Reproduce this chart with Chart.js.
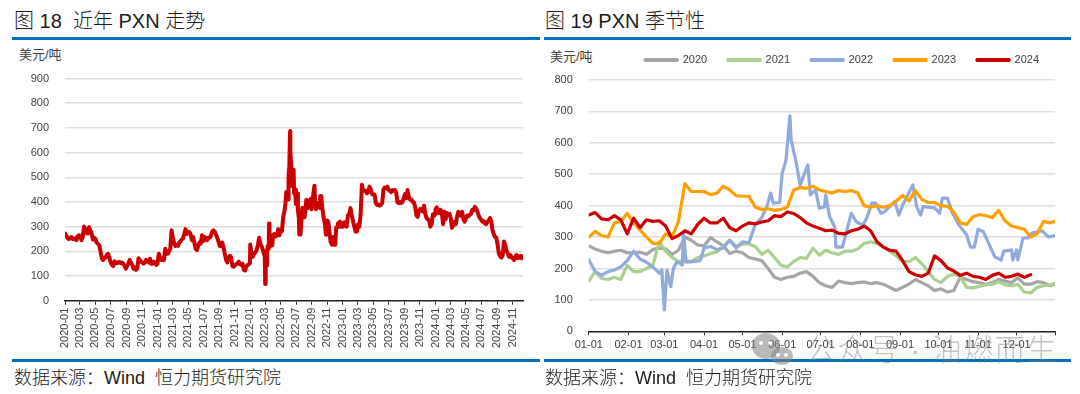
<!DOCTYPE html>
<html><head><meta charset="utf-8">
<script src="https://cdn.jsdelivr.net/npm/chart.js@4"></script>
<style>
html,body{margin:0;padding:0;background:#fff;width:1080px;height:394px;overflow:hidden}
body{position:relative;font-family:"Liberation Sans","Noto Sans CJK SC",sans-serif}
canvas{position:absolute}
#wrapL{position:absolute;left:0;top:40px;width:540px;height:320px}
#wrapR{position:absolute;left:540px;top:30px;width:540px;height:330px}
.rule{position:absolute;height:3px;background:#0070C0}
.title{position:absolute;font-size:20px;line-height:24px;color:#1a1a1a;white-space:pre;font-weight:300}
.src{position:absolute;font-size:18px;line-height:22px;color:#1a1a1a;white-space:pre;font-weight:300}
.unit{position:absolute;font-size:13px;line-height:14px;color:#404040}
#wm{position:absolute;left:806px;top:334px;font-size:30px;line-height:32px;letter-spacing:1.5px;color:rgba(120,120,120,.45);white-space:pre;font-weight:300;z-index:5}
.blob{position:absolute;border-radius:50%;background:rgba(130,130,130,.55);z-index:5}
.eye{position:absolute;border-radius:50%;background:#fff;width:4px;height:4px;z-index:6}
</style></head><body>
<div class="title" style="left:14px;top:9px">图 18  近年 PXN 走势</div>
<div class="rule" style="left:12px;width:528px;top:37px"></div>
<div class="title" style="left:545px;top:9px">图 19 PXN 季节性</div>
<div class="rule" style="left:544px;width:527px;top:37px"></div>
<div class="unit" style="left:19px;top:48px">美元/吨</div>
<div class="unit" style="left:550px;top:50px">美元/吨</div>
<div id="wrapL"><canvas id="left"></canvas></div>
<div id="wrapR"><canvas id="right"></canvas></div>
<div class="rule" style="left:12px;width:528px;top:359px"></div>
<div class="rule" style="left:544px;width:527px;top:359px"></div>
<div class="src" style="left:14px;top:367px">数据来源：Wind  恒力期货研究院</div>
<div class="src" style="left:545px;top:367px">数据来源：Wind  恒力期货研究院</div>
<div class="blob" style="left:752px;top:333px;width:28px;height:26px"></div>
<div class="blob" style="left:771px;top:347px;width:22px;height:18px"></div>
<div class="eye" style="left:759px;top:341px"></div><div class="eye" style="left:768px;top:341px"></div>
<div class="eye" style="left:776px;top:353px"></div><div class="eye" style="left:784px;top:353px"></div>
<div id="wm">公众号 · 油燃而生</div>
<script>
const DAYS = [1,6,11,16,21,26,31,36,41,46,51,56,61,66,71,76,81,86,91,96,101,106,111,116,121,126,131,136,141,146,151,156,161,166,171,176,181,186,191,196,201,206,211,216,221,226,231,236,241,246,251,256,261,266,271,276,281,286,291,296,301,306,311,316,321,326,331,336,341,346,351,356,361,365];
const DAYS_2022 = [1,6,11,16,21,26,31,36,41,46,51,56,58,60,62,65,67,70,74,75,77,82,88,91,96,101,106,111,116,121,126,131,136,140,143,145,150,152,155,158,159,163,166,169,171,172,174,178,181,185,186,189,193,194,199,206,210,215,218,222,225,229,232,240,243,246,254,257,260,262,271,275,277,281,285,290,296,299,302,305,309,312,318,323,325,331,332,335,336,340,344,347,355,360,365];
const MONTH_START = [1,32,60,91,121,152,182,213,244,274,305,335];
const MONTH_LABELS = ['01-01','02-01','03-01','04-01','05-01','06-01','07-01','08-01','09-01','10-01','11-01','12-01'];
const YEARS = ['2020','2021','2022','2023','2024'];
const COLORS = ['#A5A5A5','#A9D18E','#8FAADC','#FFA000','#CC0000'];

const v2020 = [272,262,255,250,255,258,250,250,252,245,260,265,262,245,258,300,290,275,272,298,285,272,248,255,250,235,230,225,200,172,165,172,175,185,190,175,155,145,140,160,155,152,155,157,152,155,150,140,130,140,150,165,155,145,130,135,125,130,172,165,158,155,150,155,165,160,155,170,150,150,158,155,145,150];
const v2021 = [160,190,168,165,172,165,210,190,190,200,210,285,255,235,222,225,222,235,240,248,252,270,290,270,278,278,270,245,258,235,210,205,222,235,232,265,242,258,250,245,255,255,262,280,285,280,268,255,240,222,222,235,215,190,165,155,175,182,175,140,138,143,148,150,158,148,145,150,125,122,140,145,148,152];
const v2022 = [228,190,178,190,195,205,225,255,230,220,205,185,195,68,195,142,200,222,210,313,220,222,225,265,270,260,265,290,265,285,282,340,362,397,440,408,410,503,545,686,609,536,465,498,520,530,434,450,392,396,434,365,332,268,268,376,348,338,360,408,408,376,381,413,370,401,466,397,370,397,393,376,424,424,376,338,307,268,268,325,317,291,237,227,255,259,227,259,227,297,297,313,320,300,305];
const v2023 = [300,318,305,300,345,350,375,345,322,300,280,280,310,300,350,470,445,445,445,435,440,462,450,432,430,430,395,388,390,385,388,395,450,458,455,462,450,445,440,448,445,448,440,400,395,400,395,400,415,432,415,448,420,410,410,400,398,380,345,340,365,372,368,362,385,352,335,330,325,300,310,350,345,350];
const v2024 = [370,378,358,355,368,355,310,360,330,355,350,352,335,295,305,320,310,340,360,345,345,360,330,320,335,345,342,348,352,368,365,380,375,362,345,335,328,320,322,312,310,320,325,335,320,285,268,258,255,225,190,180,175,185,240,225,202,192,178,185,175,172,165,178,185,172,175,182,172,180];
const SERIES = [v2020,v2021,v2022,v2023,v2024];
const SERIES_DAYS = [DAYS,DAYS,DAYS_2022,DAYS,DAYS];

const Y_LEFT_MAX = 900, Y_RIGHT_MAX = 800, Y_STEP = 100;
const LEFT_TICK_LABELS = [];
const LEFT_TICK_DAYS = [];
YEARS.forEach((y,yi)=>MONTH_START.forEach((d,mi)=>{
  if(mi%2===0){
    LEFT_TICK_LABELS.push(y+'-'+String(mi+1).padStart(2,'0'));
    LEFT_TICK_DAYS.push(yi*365.25+d);
  }
}));
const RIGHT_TICK_DAYS = MONTH_START.concat([365]);
const RIGHT_TICK_LABELS = MONTH_LABELS.concat(['']);

const longSeries = [];
SERIES.forEach((vals,yi)=>vals.forEach((v,i)=>longSeries.push({x:yi*365.25+SERIES_DAYS[yi][i],y:v})));

const FONT = {family:'"Liberation Sans",Arial,sans-serif',size:11};
const TXT = '#404040';
function xScale(min,max,days,labels,rot,fixH,pad){
  return {type:'linear',min,max,
    afterBuildTicks:s=>{s.ticks=days.map(v=>({value:v}));},
    afterFit:s=>{s.height=fixH;},
    grid:{drawOnChartArea:false,drawTicks:true,tickLength:4,tickColor:'#222',tickWidth:1},
    border:{display:true,color:'#222',width:1.5},
    ticks:{autoSkip:false,maxRotation:rot,minRotation:rot,padding:pad,color:TXT,font:FONT,
      callback:(v,i)=>labels[i]}
  };
}
function yScale(max,fixW,pad){
  return {type:'linear',min:0,max,
    afterFit:s=>{s.width=fixW;},
    grid:{color:'#DEDEDE',lineWidth:1.5,drawTicks:false},
    border:{display:false},
    ticks:{stepSize:Y_STEP,padding:pad,color:TXT,font:FONT}
  };
}
const common = {responsive:false,animation:false,events:[],
  elements:{point:{radius:0},line:{tension:0,borderJoinStyle:'round',borderCapStyle:'round'}}};

function size(c,w,h){c.width=w;c.height=h;c.style.width=w+'px';c.style.height=h+'px';}
size(document.getElementById('left'),540,320);
size(document.getElementById('right'),540,330);

new Chart(document.getElementById('left'),{
  type:'line',
  data:{datasets:[{label:'PXN',data:longSeries,borderColor:'#CC0000',backgroundColor:'#CC0000',borderWidth:4}]},
  options:{...common,
    layout:{padding:{left:0,right:17,top:38.5,bottom:0}},
    plugins:{legend:{display:false},tooltip:{enabled:false}},
    scales:{
      x:xScale(1,4*365.25+346,LEFT_TICK_DAYS,LEFT_TICK_LABELS,90,59.3,3),
      y:yScale(Y_LEFT_MAX,65,16)
    }
  }
});

const legendFit = {id:'legendFit',
  beforeLayout(chart){
    const lg = chart.legend;
    if(lg && !lg._patched){
      const f = lg.fit;
      lg.fit = function(){f.call(this);this.height=46.5;};
      lg._patched = true;
    }
  },
  afterLayout(chart){ chart.legend.left += 5; chart.legend.right += 5; }
};
new Chart(document.getElementById('right'),{
  type:'line',
  plugins:[legendFit],
  data:{datasets:YEARS.map((y,i)=>({
    label:y,
    data:SERIES[i].map((v,k)=>({x:SERIES_DAYS[i][k],y:v})),
    borderColor:COLORS[i],backgroundColor:COLORS[i],
    borderWidth:3.2,order:4-i
  }))},
  options:{...common,
    layout:{padding:{left:0,right:25,top:3.5,bottom:0}},
    plugins:{tooltip:{enabled:false},
      legend:{display:true,position:'top',align:'end',
        labels:{boxWidth:32,boxHeight:1,padding:21,color:TXT,font:FONT,
          sort:(a,b)=>a.datasetIndex-b.datasetIndex}}
    },
    scales:{
      x:xScale(1,365,RIGHT_TICK_DAYS,RIGHT_TICK_LABELS,0,28.7,3),
      y:yScale(Y_RIGHT_MAX,48.8,16)
    }
  }
});
</script>
</body></html>
